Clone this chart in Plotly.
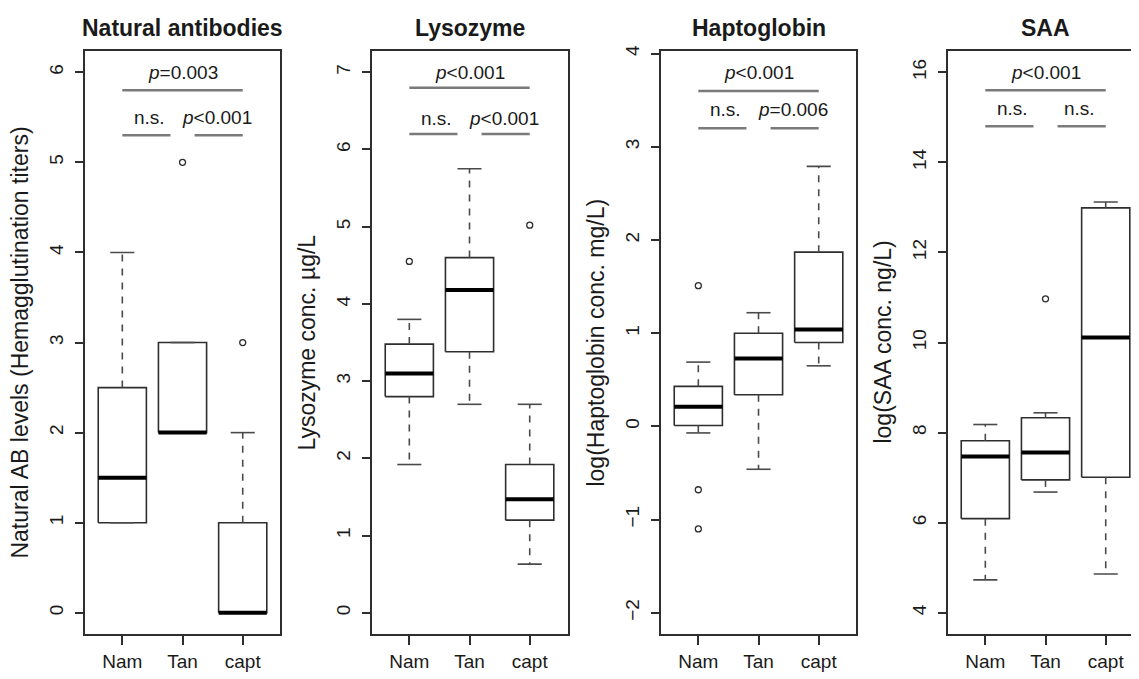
import plotly.graph_objects as go

# ---------------- data ----------------
groups = ["Nam", "Tan", "capt"]

panel_titles = ["Natural antibodies", "Lysozyme", "Haptoglobin", "SAA"]
y_titles = ["Natural AB levels (Hemagglutination titers)", "Lysozyme conc. µg/L",
            "log(Haptoglobin conc. mg/L)", "log(SAA conc. ng/L)"]

# Natural antibodies
ab_lower = [1, 2, 0]
ab_q1 = [1, 2, 0]
ab_med = [1.5, 2, 0]
ab_q3 = [2.5, 3, 1]
ab_upper = [4, 3, 2]
ab_out = [[], [5], [3]]

# Lysozyme
lys_lower = [1.92, 2.7, 0.63]
lys_q1 = [2.8, 3.38, 1.2]
lys_med = [3.1, 4.18, 1.47]
lys_q3 = [3.48, 4.6, 1.92]
lys_upper = [3.8, 5.75, 2.7]
lys_out = [[4.55], [], [5.02]]

# Haptoglobin
hap_lower = [-0.07, -0.46, 0.65]
hap_q1 = [0.01, 0.34, 0.90]
hap_med = [0.21, 0.73, 1.04]
hap_q3 = [0.43, 1.0, 1.87]
hap_upper = [0.69, 1.22, 2.79]
hap_out = [[1.51, -0.68, -1.10], [], []]

# SAA
saa_lower = [4.73, 6.68, 4.86]
saa_q1 = [6.09, 6.95, 7.01]
saa_med = [7.47, 7.56, 10.11]
saa_q3 = [7.82, 8.33, 12.99]
saa_upper = [8.18, 8.44, 13.12]
saa_out = [[], [10.97], []]

# significance: (top line y, top label y, top label, lower line y, lower label y, left label, right label)
ab_sig = [5.8, 6.0, "<i>p</i>=0.003", 5.3, 5.5, "n.s.", "<i>p</i>&lt;0.001"]
lys_sig = [6.8, 7.0, "<i>p</i>&lt;0.001", 6.2, 6.4, "n.s.", "<i>p</i>&lt;0.001"]
hap_sig = [3.6, 3.8, "<i>p</i>&lt;0.001", 3.2, 3.4, "n.s.", "<i>p</i>=0.006"]
saa_sig = [15.6, 16.0, "<i>p</i>&lt;0.001", 14.8, 15.2, "n.s.", "n.s."]

y_ticks = [[0, 1, 2, 3, 4, 5, 6], [0, 1, 2, 3, 4, 5, 6, 7],
           [-2, -1, 0, 1, 2, 3, 4], [4, 6, 8, 10, 12, 14, 16]]
y_ranges = [[-0.24, 6.24], [-0.28, 7.28], [-2.232, 4.032], [3.52, 16.48]]

panels = [
    (ab_lower, ab_q1, ab_med, ab_q3, ab_upper, ab_out, ab_sig),
    (lys_lower, lys_q1, lys_med, lys_q3, lys_upper, lys_out, lys_sig),
    (hap_lower, hap_q1, hap_med, hap_q3, hap_upper, hap_out, hap_sig),
    (saa_lower, saa_q1, saa_med, saa_q3, saa_upper, saa_out, saa_sig),
]

# ---------------- layout constants ----------------
OFF = 8  # page body margin
W, H = 1139 - OFF, 679 - OFF
FONT = "Liberation Sans, Arial, Helvetica, sans-serif"
px_left = [85, 372, 661, 948]
px_right = [280, 568, 856, 1139]
px_top, px_bottom = 45, 634
unit_px = 60.2  # pixels per x unit

BOX_C = "#2e2e2e"
WH_C = "#4a4a4a"
SIG_C = "#7a7a7a"
TXT_C = "#1a1a1a"


def fx(p):
    return (p - OFF) / W


def fy(p):
    return 1 - (p - OFF) / H


fig = go.Figure()
layout = dict(
    width=W, height=H, margin=dict(l=0, r=0, t=0, b=0),
    paper_bgcolor="white", plot_bgcolor="white", showlegend=False,
    font=dict(family=FONT, color=TXT_C, size=18),
)
annotations = []

hw, sw = 0.4, 0.2
for i, (lo, q1, med, q3, up, outl, sig) in enumerate(panels):
    n = i + 1
    xa = "x" if n == 1 else f"x{n}"
    ya = "y" if n == 1 else f"y{n}"
    xs = [1, 2, 3]

    # boxes
    bx, by = [], []
    for x, a, b in zip(xs, q1, q3):
        bx += [x - hw, x + hw, x + hw, x - hw, x - hw, None]
        by += [a, a, b, b, a, None]
    fig.add_trace(go.Scatter(x=bx, y=by, mode="lines", xaxis=xa, yaxis=ya,
                             line=dict(color=BOX_C, width=1.6), hoverinfo="skip"))
    # whiskers (dashed)
    wx, wy = [], []
    for x, l, a, b, u in zip(xs, lo, q1, q3, up):
        if u > b:
            wx += [x, x, None]; wy += [b, u, None]
        if l < a:
            wx += [x, x, None]; wy += [a, l, None]
    fig.add_trace(go.Scatter(x=wx, y=wy, mode="lines", xaxis=xa, yaxis=ya,
                             line=dict(color=WH_C, width=1.6, dash="7px,7px"), hoverinfo="skip"))
    # staples
    sx, sy = [], []
    for x, l, u in zip(xs, lo, up):
        sx += [x - sw, x + sw, None, x - sw, x + sw, None]
        sy += [u, u, None, l, l, None]
    fig.add_trace(go.Scatter(x=sx, y=sy, mode="lines", xaxis=xa, yaxis=ya,
                             line=dict(color=WH_C, width=1.6), hoverinfo="skip"))
    # medians
    mx, my = [], []
    for x, m in zip(xs, med):
        mx += [x - hw, x + hw, None]; my += [m, m, None]
    fig.add_trace(go.Scatter(x=mx, y=my, mode="lines", xaxis=xa, yaxis=ya,
                             line=dict(color="black", width=4), hoverinfo="skip"))
    # outliers
    ox, oy = [], []
    for x, vals in zip(xs, outl):
        for v in vals:
            ox.append(x); oy.append(v)
    if ox:
        fig.add_trace(go.Scatter(x=ox, y=oy, mode="markers", xaxis=xa, yaxis=ya,
                                 marker=dict(symbol="circle-open", size=6, color=BOX_C,
                                             line=dict(width=1.3, color=BOX_C)),
                                 hoverinfo="skip"))
    # significance bars
    top_y, top_ty, top_lab, low_y, low_ty, lab_l, lab_r = sig
    gx = [1, 3, None, 1, 1.8, None, 2.2, 3]
    gy = [top_y, top_y, None, low_y, low_y, None, low_y, low_y]
    fig.add_trace(go.Scatter(x=gx, y=gy, mode="lines", xaxis=xa, yaxis=ya,
                             line=dict(color=SIG_C, width=2.5), hoverinfo="skip"))
    for tx, ty, tt in [(2.0, top_ty, top_lab), (1.45, low_ty, lab_l), (2.57, low_ty, lab_r)]:
        annotations.append(dict(x=tx, y=ty, xref=xa, yref=ya, text=tt, showarrow=False,
                                xanchor="center", yanchor="middle",
                                font=dict(size=19, color=TXT_C, family=FONT)))

    # axes
    xr_hi = 0.38 + (px_right[i] - px_left[i]) / unit_px
    layout["xaxis" if n == 1 else f"xaxis{n}"] = dict(
        domain=[fx(px_left[i]), min(1.0, fx(px_right[i]))], range=[0.38, xr_hi], anchor=ya,
        tickvals=xs, ticktext=groups, ticks="outside", ticklen=9, tickwidth=1.5,
        tickcolor=BOX_C, showline=True, linecolor=BOX_C, linewidth=1.6, mirror=True,
        showgrid=False, zeroline=False, tickfont=dict(size=19, color=TXT_C),
        fixedrange=True,
    )
    layout["yaxis" if n == 1 else f"yaxis{n}"] = dict(
        domain=[fy(px_bottom), fy(px_top)], range=y_ranges[i], anchor=xa,
        tickvals=y_ticks[i], ticks="outside", ticklen=8, tickwidth=1.5, tickcolor=BOX_C,
        tickangle=-90, showline=True, linecolor=BOX_C, linewidth=1.6,
        mirror=(n != 4), showgrid=False, zeroline=False, ticklabelstandoff=5,
        tickfont=dict(size=19, color=TXT_C), fixedrange=True,
    )
    # panel title
    annotations.append(dict(x=fx(px_left[i] + 97.5), y=fy(22), xref="paper", yref="paper",
                            text=f"<b>{panel_titles[i]}</b>", showarrow=False,
                            xanchor="center", yanchor="middle",
                            font=dict(size=23, color=TXT_C, family=FONT)))
    # y title
    annotations.append(dict(x=fx(px_left[i] - 65), y=fy((px_top + px_bottom) / 2),
                            xref="paper", yref="paper",
                            text=y_titles[i], showarrow=False, textangle=-90,
                            xanchor="center", yanchor="middle",
                            font=dict(size=23, color=TXT_C, family=FONT)))

layout["annotations"] = annotations
fig.update_layout(**layout)
fig.write_html("out.html")
